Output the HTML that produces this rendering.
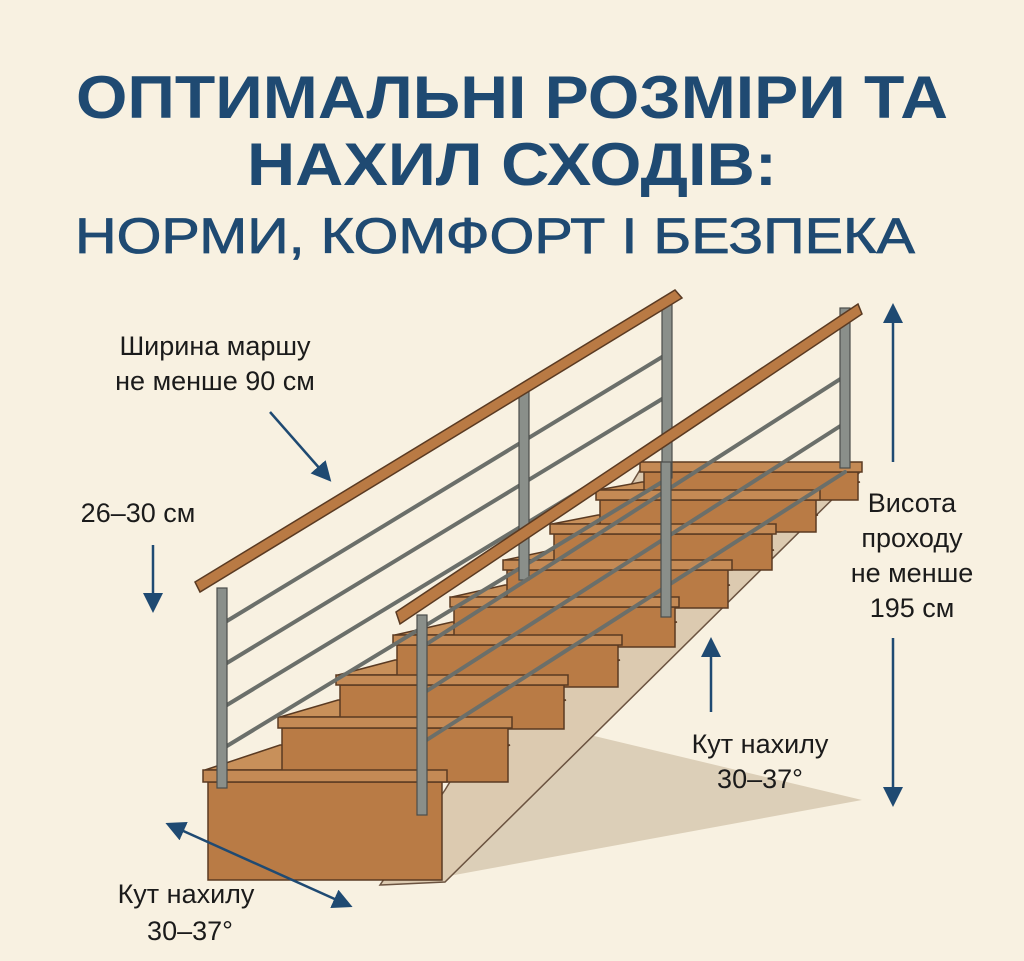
<!DOCTYPE html>
<html><head><meta charset="utf-8"><style>
html,body{margin:0;padding:0;background:#f8f1e1;}
svg{display:block}
text{font-family:"Liberation Sans","DejaVu Sans",sans-serif;}
</style></head><body>
<svg width="1024" height="961" viewBox="0 0 1024 961" xmlns="http://www.w3.org/2000/svg">
<rect width="1024" height="961" fill="#f8f1e1"/>
<g fill="#1f4a72" font-weight="bold" text-anchor="middle">
<text x="512" y="118" font-size="60" textLength="872" lengthAdjust="spacingAndGlyphs">ОПТИМАЛЬНІ РОЗМІРИ ТА</text>
<text x="512" y="185" font-size="60" textLength="530" lengthAdjust="spacingAndGlyphs">НАХИЛ СХОДІВ:</text>
<text x="495" y="253" font-size="50" font-weight="normal" textLength="840" lengthAdjust="spacingAndGlyphs" stroke="#1f4a72" stroke-width="0.8">НОРМИ, КОМФОРТ І БЕЗПЕКА</text>
</g>
<!-- shadow -->
<polygon points="590,735 862,800 400,885" fill="#dccfb8"/>
<!-- stringer side -->
<polygon points="380,885 445,882 860,472 640,470 445,790" fill="#dccab0" stroke="#6b5340" stroke-width="1.5"/>
<g stroke="#5a3a22" stroke-width="1.5">
<!-- treads tops -->
<polygon points="205,770 445,770 510,745 280,745" fill="#c8905a"/>
<polygon points="280,717 510,717 566,700 338,700" fill="#c8905a"/>
<polygon points="338,675 566,675 620,660 395,660" fill="#c8905a"/>
<polygon points="395,635 620,635 677,622 452,622" fill="#c8905a"/>
<polygon points="452,597 677,597 730,585 505,585" fill="#c8905a"/>
<polygon points="505,560 730,560 774,550 552,550" fill="#c8905a"/>
<polygon points="552,524 774,524 818,515 598,515" fill="#c8905a"/>
<polygon points="598,490 818,490 860,482 642,482" fill="#c8905a"/>
<!-- risers top to bottom -->
<rect x="644" y="472" width="214" height="28" fill="#b97b45"/><rect x="640" y="462" width="222" height="10" fill="#c48a55"/>
<rect x="600" y="500" width="216" height="32" fill="#b97b45"/><rect x="596" y="490" width="224" height="10" fill="#c48a55"/>
<rect x="554" y="534" width="218" height="36" fill="#b97b45"/><rect x="550" y="524" width="226" height="10" fill="#c48a55"/>
<rect x="507" y="570" width="221" height="38" fill="#b97b45"/><rect x="503" y="560" width="229" height="10" fill="#c48a55"/>
<rect x="454" y="607" width="221" height="40" fill="#b97b45"/><rect x="450" y="597" width="229" height="10" fill="#c48a55"/>
<rect x="397" y="645" width="221" height="42" fill="#b97b45"/><rect x="393" y="635" width="229" height="10" fill="#c48a55"/>
<rect x="340" y="685" width="224" height="44" fill="#b97b45"/><rect x="336" y="675" width="232" height="10" fill="#c48a55"/>
<rect x="282" y="728" width="226" height="54" fill="#b97b45"/><rect x="278" y="717" width="234" height="11" fill="#c48a55"/>
<rect x="208" y="782" width="234" height="98" fill="#b97b45"/><rect x="203" y="770" width="244" height="12" fill="#c48a55"/>
</g>
<!-- left railing -->
<g stroke="#6b6f6a" stroke-width="4" stroke-linecap="round">
<line x1="222" y1="624" x2="667" y2="354"/>
<line x1="222" y1="666" x2="667" y2="396"/>
<line x1="222" y1="708" x2="667" y2="438"/>
<line x1="222" y1="749" x2="667" y2="479"/>
</g>
<g fill="#8a8f8a" stroke="#4a4d4a" stroke-width="1.2">
<rect x="217" y="588" width="10" height="200"/>
<rect x="519" y="390" width="10" height="190"/>
<rect x="662" y="298" width="10" height="180"/>
</g>
<polygon points="195,582 675,290 682,298 200,592" fill="#b97a44" stroke="#5a3a22" stroke-width="1.5"/>
<!-- right railing -->
<g stroke="#6b6f6a" stroke-width="4" stroke-linecap="round">
<line x1="422" y1="647" x2="845" y2="376"/>
<line x1="422" y1="694" x2="845" y2="423"/>
<line x1="422" y1="743" x2="845" y2="472"/>
</g>
<g fill="#8a8f8a" stroke="#4a4d4a" stroke-width="1.2">
<rect x="417" y="615" width="10" height="200"/>
<rect x="661" y="462" width="10" height="155"/>
<rect x="840" y="308" width="10" height="160"/>
</g>
<polygon points="396,612 858,304 862,314 400,624" fill="#b97a44" stroke="#5a3a22" stroke-width="1.5"/>
<!-- arrows -->
<defs><marker id="a" markerWidth="8" markerHeight="8" refX="6" refY="4" orient="auto" markerUnits="strokeWidth"><path d="M0,0 L8,4 L0,8 z" fill="#1f4a72"/></marker>
<marker id="b" markerWidth="8" markerHeight="8" refX="2" refY="4" orient="auto" markerUnits="strokeWidth"><path d="M8,0 L0,4 L8,8 z" fill="#1f4a72"/></marker></defs>
<g stroke="#1f4a72" stroke-width="2.5" fill="none">
<line x1="270" y1="412" x2="328" y2="478" marker-end="url(#a)"/>
<line x1="153" y1="545" x2="153" y2="608" marker-end="url(#a)"/>
<line x1="170" y1="825" x2="348" y2="905" marker-start="url(#b)" marker-end="url(#a)"/>
<line x1="893" y1="308" x2="893" y2="462" marker-start="url(#b)"/>
<line x1="893" y1="638" x2="893" y2="802" marker-end="url(#a)"/>
<line x1="711" y1="712" x2="711" y2="642" marker-end="url(#a)"/>
</g>
<g fill="#1b1b1b" font-size="27" text-anchor="middle">
<text x="215" y="355">Ширина маршу</text>
<text x="215" y="390">не менше 90 см</text>
<text x="138" y="522">26–30 см</text>
<text x="912" y="512">Висота</text>
<text x="912" y="547">проходу</text>
<text x="912" y="582">не менше</text>
<text x="912" y="617">195 см</text>
<text x="760" y="753">Кут нахилу</text>
<text x="760" y="788">30–37°</text>
<text x="186" y="903">Кут нахилу</text>
<text x="190" y="940">30–37°</text>
</g>
</svg>
</body></html>
